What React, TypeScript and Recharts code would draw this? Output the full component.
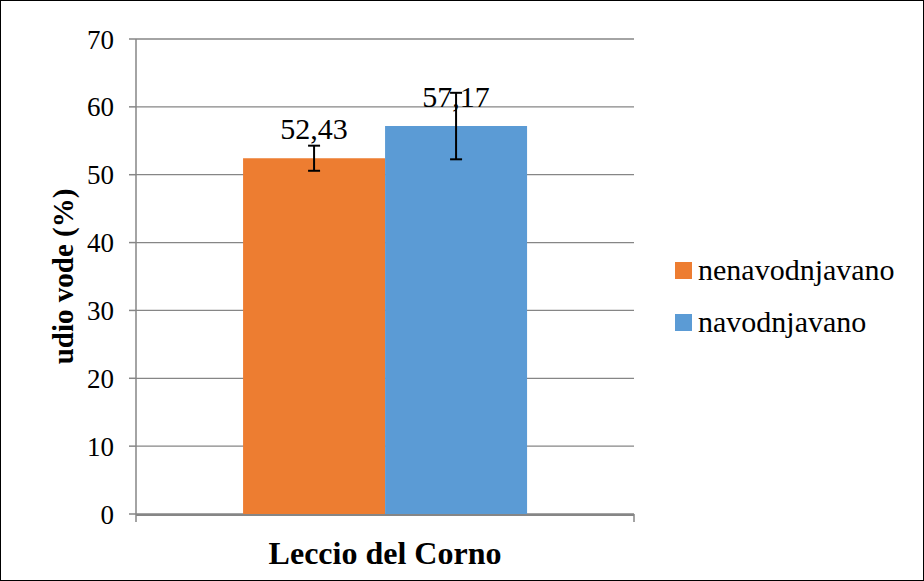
import React from "react";
import {
  BarChart,
  Bar,
  XAxis,
  YAxis,
  CartesianGrid,
  ErrorBar,
  LabelList,
  Legend,
} from "recharts";

// values
const categories = ["Leccio del Corno"];
const seriesNames = ["nenavodnjavano", "navodnjavano"];
const nenavodnjavano = [52.43];
const navodnjavano = [57.17];
const nenavodnjavanoErr = [1.85];
const navodnjavanoErr = [4.9];
const yTicks = [0, 10, 20, 30, 40, 50, 60, 70];

const ORANGE = "#ed7d31";
const BLUE = "#5b9bd5";
const AXIS = "#868686";
const FONT = "Liberation Serif, Times New Roman, serif";

const data = categories.map((name, i) => ({
  name,
  nen: nenavodnjavano[i],
  nav: navodnjavano[i],
  nenErr: nenavodnjavanoErr[i],
  navErr: navodnjavanoErr[i],
  edge: 0,
}));

const fmt = (v: any) => Number(v).toFixed(2).replace(".", ",");

const ValueLabel = (props: any) => {
  const { x, y, width, value } = props;
  return (
    <text
      x={x + width / 2}
      y={y - 19}
      textAnchor="middle"
      fontSize={30}
      fontFamily={FONT}
      fill="#000"
    >
      {fmt(value)}
    </text>
  );
};

const YTitle = (props: any) => {
  const { viewBox } = props;
  const cx = viewBox.x - 13;
  const cy = viewBox.y + viewBox.height / 2;
  return (
    <text
      x={cx}
      y={cy}
      transform={`rotate(-90 ${cx} ${cy})`}
      textAnchor="middle"
      dominantBaseline="central"
      fontSize={29}
      fontWeight="bold"
      fontFamily={FONT}
      fill="#000"
    >
      udio vode (%)
    </text>
  );
};

const LegendBox = (props: any) => {
  const payload = [...(props.payload || [])].sort(
    (a: any, b: any) => seriesNames.indexOf(a.value) - seriesNames.indexOf(b.value)
  );
  return (
    <div style={{ fontFamily: FONT, fontSize: 30, color: "#000" }}>
      {payload.map((p: any) => (
        <div
          key={p.value}
          style={{ display: "flex", alignItems: "center", height: 52 }}
        >
          <span
            style={{
              display: "inline-block",
              width: 17,
              height: 17,
              background: p.color,
              marginRight: 6,
            }}
          />
          <span>{p.value}</span>
        </div>
      ))}
    </div>
  );
};

export default function App() {
  return (
    <div
      style={{
        position: "absolute",
        left: 0,
        top: 0,
        width: 922,
        height: 579,
        border: "1px solid #000",
        background: "#fff",
        fontFamily: FONT,
      }}
    >
      <BarChart
        width={922}
        height={579}
        data={data}
        margin={{ top: 38, right: 49, left: 75, bottom: 64 }}
        barCategoryGap="21.5%"
        barGap={0}
      >
        <CartesianGrid
          xAxisId="main"
          vertical={false}
          stroke={AXIS}
          strokeWidth={1.3}
        />
        <XAxis
          xAxisId="edge"
          type="number"
          domain={[0, 1]}
          ticks={[0, 1]}
          dataKey="edge"
          height={1}
          axisLine={false}
          tickLine={{ stroke: AXIS, strokeWidth: 1.5 }}
          tickSize={8}
          tickFormatter={() => ""}
        />
        <XAxis
          xAxisId="main"
          dataKey="name"
          height={1}
          axisLine={{ stroke: AXIS, strokeWidth: 2 }}
          tickLine={false}
          tickMargin={20}
          tick={{
            fontSize: 32,
            fontWeight: "bold",
            fontFamily: FONT,
            fill: "#000",
          }}
        />
        <YAxis
          width={60}
          domain={[0, 70]}
          ticks={yTicks}
          interval={0}
          axisLine={{ stroke: AXIS, strokeWidth: 1.5 }}
          tickLine={{ stroke: AXIS, strokeWidth: 1.5 }}
          tickSize={7}
          tickMargin={15}
          tick={{ fontSize: 27, fontFamily: FONT, fill: "#000" }}
          label={<YTitle />}
        />
        <Legend
          layout="vertical"
          align="right"
          verticalAlign="middle"
          content={<LegendBox />}
          wrapperStyle={{ left: 674, top: 243, width: 240 }}
        />
        <Bar
          xAxisId="main"
          dataKey="nen"
          name={seriesNames[0]}
          fill={ORANGE}
          isAnimationActive={false}
        >
          <ErrorBar dataKey="nenErr" width={6} stroke="#000" strokeWidth={2} />
          <LabelList dataKey="nen" content={<ValueLabel />} />
        </Bar>
        <Bar
          xAxisId="main"
          dataKey="nav"
          name={seriesNames[1]}
          fill={BLUE}
          isAnimationActive={false}
        >
          <ErrorBar dataKey="navErr" width={6} stroke="#000" strokeWidth={2} />
          <LabelList dataKey="nav" content={<ValueLabel />} />
        </Bar>
      </BarChart>
    </div>
  );
}
